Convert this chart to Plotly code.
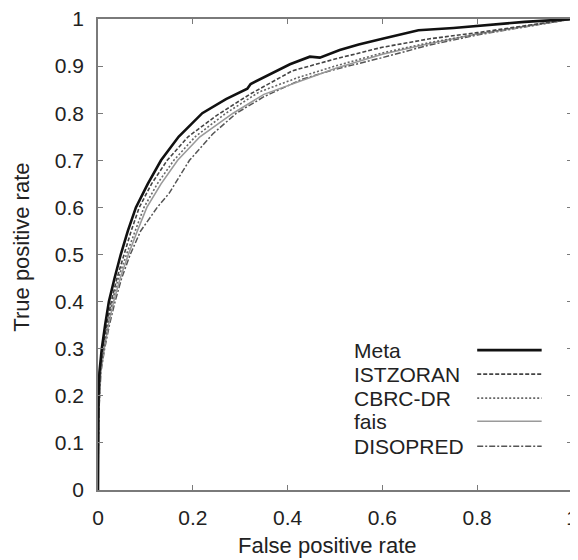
import plotly.graph_objects as go

# ---- data ----
series_names = ["Meta", "ISTZORAN", "CBRC-DR", "fais", "DISOPRED"]

meta_fpr = [0, 0, 0.001, 0.003, 0.008, 0.015, 0.023, 0.035, 0.048, 0.063, 0.08, 0.105, 0.133, 0.17, 0.22, 0.27, 0.315, 0.322, 0.36, 0.405, 0.447, 0.468, 0.51, 0.55, 0.6, 0.676, 0.75, 0.8, 0.9, 1.0]
meta_tpr = [0, 0.1, 0.2, 0.25, 0.3, 0.35, 0.4, 0.45, 0.5, 0.55, 0.6, 0.65, 0.7, 0.75, 0.8, 0.83, 0.852, 0.862, 0.882, 0.904, 0.92, 0.918, 0.934, 0.946, 0.958, 0.976, 0.981, 0.985, 0.994, 1.0]

ist_fpr = [0, 0.001, 0.004, 0.01, 0.018, 0.028, 0.04, 0.055, 0.07, 0.087, 0.113, 0.146, 0.19, 0.25, 0.32, 0.41, 0.5, 0.6, 0.7, 0.8, 0.9, 1.0]
ist_tpr = [0, 0.15, 0.25, 0.3, 0.35, 0.4, 0.45, 0.5, 0.55, 0.6, 0.65, 0.7, 0.75, 0.795, 0.84, 0.89, 0.915, 0.94, 0.958, 0.971, 0.985, 1.0]

cbrc_fpr = [0, 0.001, 0.005, 0.012, 0.02, 0.03, 0.043, 0.06, 0.078, 0.097, 0.125, 0.16, 0.205, 0.27, 0.34, 0.42, 0.5, 0.6, 0.7, 0.8, 0.9, 1.0]
cbrc_tpr = [0, 0.15, 0.25, 0.3, 0.35, 0.4, 0.45, 0.5, 0.55, 0.6, 0.65, 0.7, 0.75, 0.8, 0.845, 0.875, 0.9, 0.928, 0.95, 0.968, 0.984, 1.0]

fais_fpr = [0, 0.001, 0.006, 0.013, 0.022, 0.033, 0.047, 0.064, 0.083, 0.103, 0.133, 0.168, 0.215, 0.285, 0.35, 0.43, 0.5, 0.6, 0.7, 0.8, 0.9, 1.0]
fais_tpr = [0, 0.15, 0.25, 0.3, 0.35, 0.4, 0.45, 0.5, 0.55, 0.6, 0.65, 0.7, 0.75, 0.8, 0.84, 0.87, 0.895, 0.925, 0.948, 0.968, 0.984, 1.0]

diso_fpr = [0, 0.001, 0.006, 0.014, 0.024, 0.036, 0.05, 0.068, 0.09, 0.125, 0.15, 0.175, 0.193, 0.242, 0.292, 0.35, 0.43, 0.5, 0.6, 0.7, 0.8, 0.9, 1.0]
diso_tpr = [0, 0.15, 0.25, 0.3, 0.35, 0.4, 0.45, 0.5, 0.55, 0.6, 0.63, 0.671, 0.7, 0.756, 0.8, 0.835, 0.872, 0.893, 0.918, 0.945, 0.966, 0.983, 1.0]

x_ticks = [0, 0.2, 0.4, 0.6, 0.8, 1]
x_tick_labels = ["0", "0.2", "0.4", "0.6", "0.8", "1"]
y_ticks = [0, 0.1, 0.2, 0.3, 0.4, 0.5, 0.6, 0.7, 0.8, 0.9, 1]
y_tick_labels = ["0", "0.1", "0.2", "0.3", "0.4", "0.5", "0.6", "0.7", "0.8", "0.9", "1"]

x_title = "False positive rate"
y_title = "True positive rate"

# ---- styles ----
styles = {
    "Meta": dict(color="#111111", width=2.6, dash="solid"),
    "ISTZORAN": dict(color="#444444", width=1.6, dash="4px,2px"),
    "CBRC-DR": dict(color="#666666", width=1.6, dash="2px,2px"),
    "fais": dict(color="#9a9a9a", width=1.6, dash="solid"),
    "DISOPRED": dict(color="#555555", width=1.5, dash="6px,2px,2px,2px"),
}

data = {
    "Meta": (meta_fpr, meta_tpr),
    "ISTZORAN": (ist_fpr, ist_tpr),
    "CBRC-DR": (cbrc_fpr, cbrc_tpr),
    "fais": (fais_fpr, fais_tpr),
    "DISOPRED": (diso_fpr, diso_tpr),
}

FONT = "Liberation Sans, Arial, sans-serif"
TXT = "#222222"

fig = go.Figure()
for name in reversed(series_names):
    xs, ys = data[name]
    fig.add_trace(go.Scatter(x=xs, y=ys, mode="lines", name=name,
                             line=styles[name], showlegend=False,
                             cliponaxis=False))

# manual legend: text on the left, line sample on the right
row_y = [0.297, 0.246, 0.195, 0.146, 0.093]
for name, yy in zip(series_names, row_y):
    fig.add_annotation(x=0.536, y=yy, xref="paper", yref="paper",
                       text=name, showarrow=False, xanchor="left", yanchor="middle",
                       font=dict(family=FONT, size=21, color=TXT))
    fig.add_shape(type="line", xref="paper", yref="paper",
                  x0=0.80, x1=0.936, y0=yy, y1=yy, line=styles[name])

# axis titles
fig.add_annotation(x=0.485, y=-0.117, xref="paper", yref="paper", text=x_title,
                   showarrow=False, xanchor="center", yanchor="middle",
                   font=dict(family=FONT, size=22, color=TXT))
fig.add_annotation(x=-0.161, y=0.516, xref="paper", yref="paper", text=y_title,
                   showarrow=False, xanchor="center", yanchor="middle", textangle=-90,
                   font=dict(family=FONT, size=22, color=TXT))

axis_common = dict(
    showgrid=False, zeroline=False, showline=True, linecolor="#7a7a7a", linewidth=1.5,
    mirror="ticks", ticks="inside", ticklen=5, tickcolor="#7a7a7a", tickwidth=1.2,
    tickfont=dict(family=FONT, size=21, color=TXT), automargin=False,
    ticklabeloverflow="allow",
)

fig.update_xaxes(range=[0, 1], tickvals=x_ticks, ticktext=x_tick_labels,
                 ticklabelstandoff=8, **axis_common)
fig.update_yaxes(range=[0, 1], tickvals=y_ticks, ticktext=y_tick_labels,
                 ticklabelstandoff=8, **axis_common)

# the page adds an 8px body margin, so the figure is sized/offset to compensate
fig.update_layout(
    width=570, height=552,
    margin=dict(l=90, r=6, t=11, b=70, autoexpand=False),
    paper_bgcolor="white", plot_bgcolor="white",
    font=dict(family=FONT, size=21, color=TXT),
)

fig.write_html("out.html")
